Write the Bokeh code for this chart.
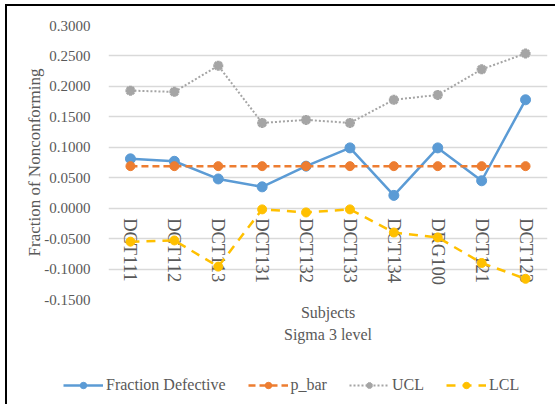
import math
from bokeh.plotting import figure
from bokeh.layouts import column
from bokeh.models import Range1d, FactorRange, NumeralTickFormatter, Legend, LegendItem, ColumnDataSource, Title
from bokeh.core.properties import value
from bokeh.embed import file_html
from bokeh.resources import INLINE

subjects = ["DCT111", "DCT112", "DCT113", "DCT131", "DCT132", "DCT133", "DCT134", "DRG100", "DCT121", "DCT123"]
fraction_defective = [0.081, 0.077, 0.048, 0.035, 0.069, 0.099, 0.021, 0.099, 0.045, 0.178]
p_bar = [0.069] * 10
ucl = [0.193, 0.191, 0.234, 0.140, 0.145, 0.140, 0.178, 0.186, 0.228, 0.254]
lcl = [-0.055, -0.053, -0.096, -0.002, -0.007, -0.002, -0.040, -0.048, -0.090, -0.116]
y_ticks = [-0.15, -0.1, -0.05, 0, 0.05, 0.1, 0.15, 0.2, 0.25, 0.3]

FONT = "'Liberation Serif'"
TXT = "#595959"
C_FD, C_PB, C_UCL, C_LCL = "#5B9BD5", "#ED7D31", "#A5A5A5", "#FFC000"

p = figure(width=548, height=344, x_range=FactorRange(*subjects, range_padding=0),
           y_range=Range1d(-0.15, 0.3), output_backend="svg", toolbar_location=None,
           min_border_left=101, min_border_right=8, min_border_top=19, min_border_bottom=51)
p.frame_align = False
p.outline_line_color = None
p.xaxis.visible = False
p.xgrid.grid_line_color = None
p.ygrid.grid_line_color = "#D9D9D9"
p.ygrid.grid_line_width = 1.5
p.yaxis.ticker = y_ticks
p.yaxis.formatter = NumeralTickFormatter(format="0.0000")
p.yaxis.axis_line_color = None
p.yaxis.major_tick_line_color = None
p.yaxis.minor_tick_line_color = None
p.yaxis.major_label_text_font = FONT
p.yaxis.major_label_text_font_size = "15px"
p.yaxis.major_label_text_color = TXT
p.yaxis.major_label_standoff = 12
p.yaxis.axis_label = "Fraction of Nonconforming"
p.yaxis.axis_label_text_font = FONT
p.yaxis.axis_label_text_font_style = "normal"
p.yaxis.axis_label_text_font_size = "17px"
p.yaxis.axis_label_text_color = TXT
p.yaxis.axis_label_standoff = -3

p.add_layout(Title(text="Subjects", align="center", text_font=FONT, text_font_size="16px",
                   text_font_style="normal", text_color=TXT, standoff=4), "below")
p.add_layout(Title(text="Sigma 3 level", align="center", text_font=FONT, text_font_size="16px",
                   text_font_style="normal", text_color=TXT, standoff=3), "below")

p.text(x=subjects, y=[0] * len(subjects), text=subjects, angle=-math.pi / 2,
       text_align="left", text_baseline="middle", y_offset=10,
       text_font=value(FONT), text_font_size="18.5px", text_color=TXT)

src = ColumnDataSource(dict(x=subjects, fd=fraction_defective, pb=p_bar, ucl=ucl, lcl=lcl))

def draw(fig, source, col, color, dash, width, marker, size, mlw):
    ln = fig.line("x", col, source=source, line_color=color, line_width=width, line_dash=dash)
    mk = fig.scatter("x", col, source=source, marker=marker, size=size, color=color, line_width=mlw)
    return ln, mk

styles = [
    ("fd", C_FD, "solid", 2.5, "circle", 10, 1),
    ("pb", C_PB, "7 4", 2.5, "circle", 9, 1),
    ("ucl", C_UCL, "2 2", 2, "asterisk", 10, 3),
    ("lcl", C_LCL, "9 7", 2.5, "circle", 9, 1),
]
for s in styles:
    draw(p, src, *s)

# legend panel (its renderers sit outside the visible range; only the legend shows)
lg = figure(width=548, height=54, x_range=Range1d(0, 1), y_range=Range1d(0, 1),
            output_backend="svg", toolbar_location=None,
            x_axis_location=None, y_axis_location=None,
            min_border_left=0, min_border_right=0, min_border_top=0, min_border_bottom=0)
lg.frame_align = False
lg.outline_line_color = None
lg.grid.visible = False
hidden = ColumnDataSource(dict(x=[-5, -4], fd=[-5, -5], pb=[-5, -5], ucl=[-5, -5], lcl=[-5, -5]))
labels = ["Fraction Defective", "p_bar", "UCL", "LCL"]
items = []
for lab, s in zip(labels, styles):
    ln, mk = draw(lg, hidden, *s)
    items.append(LegendItem(label=lab, renderers=[ln, mk]))
legend = Legend(items=items, orientation="horizontal", location=(56, 10), glyph_width=40, glyph_height=16,
                label_standoff=3, spacing=22, padding=0, margin=0,
                label_text_font=FONT, label_text_font_size="16px", label_text_color=TXT,
                border_line_color=None, background_fill_alpha=0)
lg.add_layout(legend, "center")

layout = column(p, lg, spacing=0)
layout.styles = {"border-left": "2px solid black", "border-top": "2px solid black",
                 "margin-left": "5px", "margin-top": "4px"}

open("out.html", "w").write(file_html(layout, INLINE))
